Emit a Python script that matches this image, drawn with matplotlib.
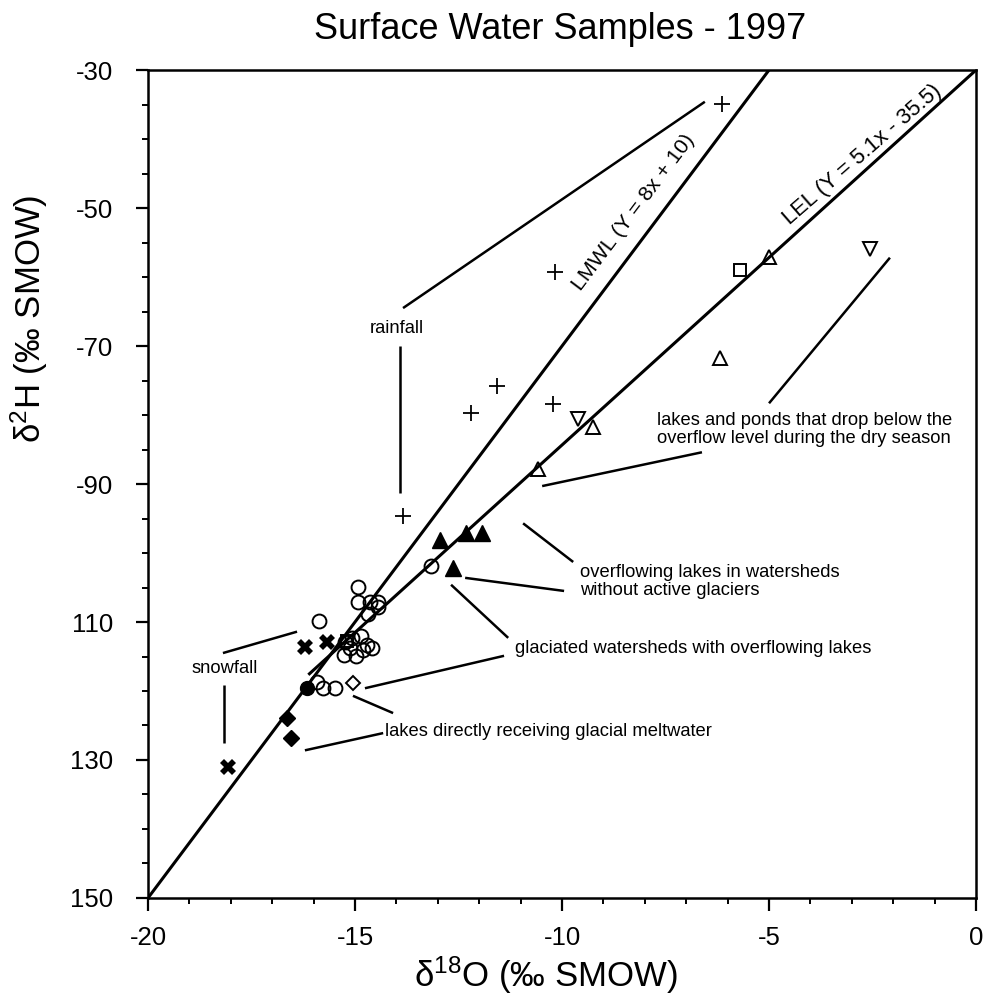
import matplotlib
matplotlib.use("Agg")
import matplotlib.pyplot as plt

plt.rcParams['font.family'] = ['Liberation Sans', 'DejaVu Sans']
plt.rcParams['mathtext.fontset'] = 'custom'
plt.rcParams['mathtext.rm'] = 'Liberation Sans'
plt.rcParams['mathtext.it'] = 'Liberation Sans'

# rainfall (+)
rain_x = [-6.14, -10.17, -11.57, -12.2, -10.22, -13.84]
rain_y = [-34.9, -59.3, -75.8, -79.7, -78.4, -94.6]

# snowfall (bold x)
snow_x = [-16.21, -15.68, -18.07]
snow_y = [-113.6, -112.9, -131.0]

# open circles
circ_x = [-14.93, -14.93, -14.64, -14.44, -14.44, -14.68, -15.87,
          -15.24, -15.07, -14.86, -14.71, -15.27, -14.98, -15.12, -14.81, -14.59,
          -15.92, -15.77, -15.48, -13.16]
circ_y = [-104.9, -107.1, -107.1, -107.1, -107.8, -108.9, -109.9,
          -112.9, -112.3, -112.0, -113.3, -114.8, -114.9, -113.8, -114.1, -113.8,
          -118.7, -119.6, -119.6, -101.9]

# filled circle
fcirc_x = [-16.16]
fcirc_y = [-119.6]

# open triangles
tri_x = [-5.0, -6.18, -9.25, -10.58]
tri_y = [-57.1, -71.7, -81.7, -87.8]

# open down triangles
dtri_x = [-2.56, -9.61]
dtri_y = [-55.9, -80.6]

# open squares
sq_x = [-5.7, -15.19]
sq_y = [-59.0, -112.8]

# filled triangles
ftri_x = [-12.95, -12.32, -11.93, -12.63]
ftri_y = [-98.1, -97.1, -97.1, -102.2]

# open diamond
dia_x = [-15.05]
dia_y = [-118.8]

# filled diamonds
fdia_x = [-16.64, -16.55]
fdia_y = [-123.9, -126.8]

# reference lines
lmwl_x = [-20, -5]
lel_x = [-16.1, 0]
lel_y = [-117.5, -30]

# annotation leader lines ((x0, x1), (y0, y1))
leaders = [
    ((-13.84, -6.55), (-64.5, -34.6)),
    ((-13.91, -13.91), (-70.0, -91.3)),
    ((-5.0, -2.08), (-78.3, -57.2)),
    ((-10.48, -6.62), (-90.3, -85.4)),
    ((-10.94, -9.73), (-95.7, -101.3)),
    ((-12.34, -9.95), (-103.6, -105.5)),
    ((-12.68, -11.30), (-104.6, -112.3)),
    ((-14.76, -11.40), (-119.6, -114.9)),
    ((-15.05, -14.08), (-120.7, -123.2)),
    ((-16.21, -14.32), (-128.6, -126.1)),
    ((-18.19, -16.40), (-114.5, -111.4)),
    ((-18.16, -18.16), (-119.1, -127.5)),
]

x_ticks = [-20, -15, -10, -5, 0]
x_labels = ['-20', '-15', '-10', '-5', '0']
y_ticks = [-30, -50, -70, -90, -110, -130, -150]
y_labels = ['-30', '-50', '-70', '-90', '110', '130', '150']

fig = plt.figure(figsize=(9.86, 9.96), dpi=100)
ax = fig.add_axes([0.1501, 0.0984, 0.8398, 0.8313])

ax.plot(lmwl_x, [8 * v + 10 for v in lmwl_x], color='black', lw=2.2)
ax.plot(lel_x, lel_y, color='black', lw=2.2)
for xs, ys in leaders:
    ax.plot(xs, ys, color='black', lw=1.8, solid_capstyle='butt')

ms = 10
ax.plot(rain_x, rain_y, '+', color='black', ms=ms + 1, mew=1.3, ls='none')
ax.plot(snow_x, snow_y, 'X', color='black', ms=ms + 1.5, mew=0, ls='none')
ax.plot(circ_x, circ_y, 'o', mfc='none', mec='black', ms=ms, mew=1.4, ls='none')
ax.plot(fcirc_x, fcirc_y, 'o', color='black', ms=ms, ls='none')
ax.plot(tri_x, tri_y, '^', mfc='none', mec='black', ms=ms, mew=1.4, ls='none')
ax.plot(dtri_x, dtri_y, 'v', mfc='none', mec='black', ms=ms, mew=1.4, ls='none')
ax.plot(sq_x, sq_y, 's', mfc='none', mec='black', ms=ms - 1, mew=1.4, ls='none')
ax.plot(ftri_x, ftri_y, '^', color='black', ms=ms + 1, ls='none')
ax.plot(dia_x, dia_y, 'D', mfc='none', mec='black', ms=7, mew=1.4, ls='none')
ax.plot(fdia_x, fdia_y, 'D', color='black', ms=8, ls='none')

fs = 13.2
ax.text(-8.28, -50.6, 'LMWL (Y = 8x + 10)', rotation=53, ha='center', va='center',
        fontsize=15.4, rotation_mode='anchor')
ax.text(-2.75, -42.3, 'LEL (Y = 5.1x - 35.5)', rotation=41, ha='center', va='center',
        fontsize=15.8, rotation_mode='anchor')
ax.text(-13.99, -67.4, 'rainfall', ha='center', va='center', fontsize=fs)
ax.text(-18.14, -116.7, 'snowfall', ha='center', va='center', fontsize=fs)
ax.text(-7.71, -82.1, 'lakes and ponds that drop below the\noverflow level during the dry season',
        ha='left', va='center', fontsize=fs, linespacing=1.1)
ax.text(-9.57, -104.1, 'overflowing lakes in watersheds\nwithout active glaciers',
        ha='left', va='center', fontsize=fs, linespacing=1.1)
ax.text(-11.14, -113.8, 'glaciated watersheds with overflowing lakes',
        ha='left', va='center', fontsize=fs)
ax.text(-14.28, -125.9, 'lakes directly receiving glacial meltwater',
        ha='left', va='center', fontsize=fs)

ax.set_xlim(-20, 0)
ax.set_ylim(-150, -30)
ax.set_xticks(x_ticks)
ax.set_xticklabels(x_labels)
ax.set_yticks(y_ticks)
ax.set_yticklabels(y_labels)
ax.set_xticks(range(-20, 1), minor=True)
ax.set_yticks(range(-150, -29, 5), minor=True)
ax.tick_params(which='major', direction='out', length=9, width=1.6, labelsize=18.5)
ax.tick_params(axis='x', which='major', pad=11)
ax.tick_params(axis='y', which='major', pad=16)
ax.tick_params(which='minor', direction='out', length=4.5, width=1.4)
for s in ax.spines.values():
    s.set_linewidth(1.8)

ax.set_xlabel('δ$^{18}$O (‰ SMOW)', fontsize=25)
ax.set_ylabel('δ$^{2}$H (‰ SMOW)', fontsize=25)
ax.xaxis.set_label_coords(0.48, -0.068)
ax.yaxis.set_label_coords(-0.118, 0.70)
fig.text(0.568, 0.970, 'Surface Water Samples - 1997', ha='center', va='center', fontsize=26)

fig.savefig('out.png', dpi=100)
